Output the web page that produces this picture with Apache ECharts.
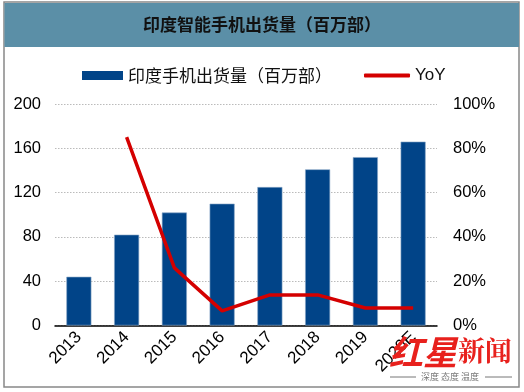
<!DOCTYPE html>
<html><head><meta charset="utf-8">
<script src="https://cdn.jsdelivr.net/npm/echarts@6/dist/echarts.min.js"></script>
<style>html,body{margin:0;padding:0;background:#fff}#c{width:524px;height:392px}</style>
</head><body><div id="c"></div>
<script>
const categories = ['2013','2014','2015','2016','2017','2018','2019','2020E'];
const shipments = [44, 82, 102, 110, 125, 141, 152, 166];
const yoy = [null, 85, 26, 6.6, 13.8, 13.8, 7.9, 7.9];
const leftTicks = [0, 40, 80, 120, 160, 200];
const rightTicks = [0, 20, 40, 60, 80, 100];
const titleText = '印度智能手机出货量（百万部）';
const barName = '印度手机出货量（百万部）';
const lineName = 'YoY';

const chart = echarts.init(document.getElementById('c'), null, {renderer: 'canvas'});
const cjk = '"Noto Sans CJK SC", "Noto Sans", sans-serif';
const latin = '"Liberation Sans", Arial, sans-serif';
chart.setOption({
  animation: false,
  backgroundColor: '#fff',
  graphic: [
    {type: 'rect', shape: {x: 4, y: 2, width: 515, height: 385}, style: {fill: 'none', stroke: '#888', lineWidth: 1.5}, z: 0},
    {type: 'rect', shape: {x: 4.5, y: 3, width: 514.5, height: 44}, style: {fill: '#5b8fa7'}, z: 0},
    {type: 'text', x: 262, y: 25, style: {text: titleText, fill: '#111', font: 'bold 17px ' + cjk, textAlign: 'center', textVerticalAlign: 'middle'}, z: 1},
    {type: 'text', x: 423, y: 352, style: {text: '红星', fill: '#e8211d', font: 'bold italic 34px ' + cjk, textAlign: 'center', textVerticalAlign: 'middle'}, z: 10},
    {type: 'text', x: 485, y: 351, style: {text: '新闻', fill: '#e8211d', font: 'bold 27px "Noto Serif CJK SC", ' + cjk, textAlign: 'center', textVerticalAlign: 'middle'}, z: 10},
    {type: 'text', x: 450, y: 377, style: {text: '深度 态度 温度', fill: '#777', font: '9px ' + cjk, textAlign: 'center', textVerticalAlign: 'middle'}, z: 10},
    {type: 'line', shape: {x1: 390, y1: 377, x2: 416, y2: 377}, style: {stroke: '#777', lineWidth: 1}, z: 10},
    {type: 'line', shape: {x1: 485, y1: 377, x2: 512, y2: 377}, style: {stroke: '#777', lineWidth: 1}, z: 10}
  ],
  legend: [
    {data: [{name: barName, icon: 'rect'}], left: 77, top: 62, itemWidth: 41, itemHeight: 9, itemGap: 7,
     itemStyle: {borderWidth: 0},
     textStyle: {fontSize: 17, color: '#111', fontFamily: cjk}},
    {data: [{name: lineName, icon: 'roundRect'}], left: 359, top: 62, itemWidth: 46, itemHeight: 4, itemGap: 5,
     itemStyle: {borderWidth: 0},
     textStyle: {fontSize: 17, color: '#111', fontFamily: latin}}
  ],
  grid: {left: 55, right: 87, top: 104, bottom: 66.5, containLabel: false},
  xAxis: {
    type: 'category', data: categories,
    axisLine: {lineStyle: {color: '#000', width: 1.5}},
    axisTick: {show: false},
    axisLabel: {rotate: 45, fontSize: 17, color: '#000', fontFamily: latin, margin: 9, interval: 0}
  },
  yAxis: [
    {type: 'value', min: 0, max: 200, interval: 40, position: 'left',
     axisLine: {show: false}, axisTick: {show: false},
     axisLabel: {fontSize: 16.5, color: '#000', fontFamily: latin, margin: 14, align: 'right',
       formatter: v => leftTicks.includes(v) ? String(v) : ''},
     splitLine: {lineStyle: {color: '#bbb', type: [1.5, 1.5], width: 1}}},
    {type: 'value', min: 0, max: 100, interval: 20, position: 'right',
     axisLine: {show: false}, axisTick: {show: false}, splitLine: {show: false},
     axisLabel: {fontSize: 16.5, color: '#000', fontFamily: latin, margin: 16,
       formatter: v => rightTicks.includes(v) ? v + '%' : ''}}
  ],
  series: [
    {name: barName, type: 'bar', data: shipments, barWidth: 25, yAxisIndex: 0,
     itemStyle: {color: '#014488', borderColor: '#8aa6c6', borderWidth: 0.6}},
    {name: lineName, type: 'line', data: yoy, yAxisIndex: 1, symbol: 'none', connectNulls: false,
     lineStyle: {color: '#d40000', width: 3.5}, itemStyle: {color: '#d40000'}, z: 5}
  ]
});
</script></body></html>
